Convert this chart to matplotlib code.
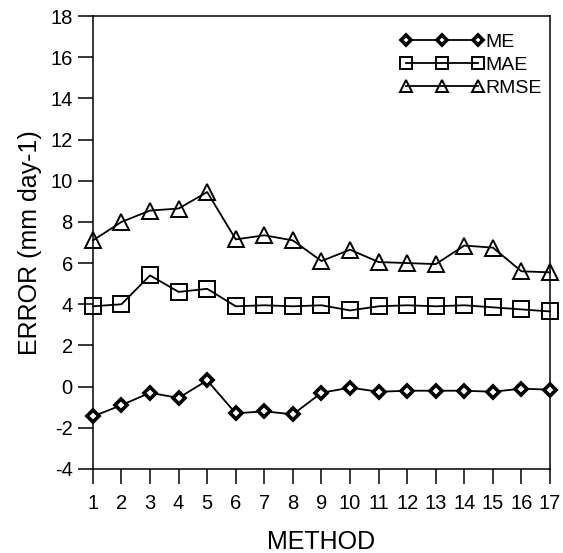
import matplotlib.pyplot as plt
import numpy as np

plt.rcParams['font.family'] = ['Liberation Sans', 'DejaVu Sans']
plt.rcParams['axes.unicode_minus'] = False

methods = np.arange(1, 18)
me = [-1.45, -0.9, -0.3, -0.55, 0.3, -1.3, -1.2, -1.35, -0.3, -0.05,
      -0.25, -0.2, -0.2, -0.2, -0.25, -0.1, -0.15]
mae = [3.9, 4.0, 5.4, 4.6, 4.75, 3.9, 3.95, 3.9, 3.95, 3.7,
       3.9, 3.95, 3.9, 3.95, 3.85, 3.75, 3.65]
rmse = [7.1, 8.0, 8.55, 8.65, 9.45, 7.15, 7.35, 7.1, 6.1, 6.65,
        6.05, 6.0, 5.95, 6.85, 6.75, 5.6, 5.55]

fig = plt.figure(figsize=(5.63, 5.53), dpi=100)
ax = fig.add_axes([0.165, 0.152, 0.812, 0.819])

ax.plot(methods, me, color='black', lw=1.3, marker='D', ms=6.5,
        mfc='white', mec='black', mew=2.6, label='ME', clip_on=False, zorder=3)
ax.plot(methods, mae, color='black', lw=1.3, marker='s', ms=11,
        mfc='none', mec='black', mew=1.4, label='MAE', clip_on=False, zorder=3)
ax.plot(methods, rmse, color='black', lw=1.3, marker='^', ms=11,
        mfc='none', mec='black', mew=1.4, label='RMSE', clip_on=False, zorder=3)

ax.set_xlim(1, 17)
ax.set_ylim(-4, 18)
ax.set_xticks(methods)
ax.set_yticks(np.arange(-4, 19, 2))
ax.tick_params(axis='both', direction='out', labelsize=14.5, width=1.1, color='black')
ax.tick_params(axis='y', length=11, pad=3.5)
ax.tick_params(axis='x', length=11, pad=7)
for s in ax.spines.values():
    s.set_linewidth(1.1)

ax.set_xlabel('METHOD', fontsize=18, labelpad=12)
ax.set_ylabel('ERROR (mm day-1)', fontsize=18, labelpad=6)

ax.legend(loc='upper right', bbox_to_anchor=(1.02, 1.0), frameon=False,
          numpoints=3, fontsize=14, handlelength=4.3, handletextpad=0.1,
          labelspacing=0.28, markerscale=0.8)

fig.savefig('out.png', dpi=100)
